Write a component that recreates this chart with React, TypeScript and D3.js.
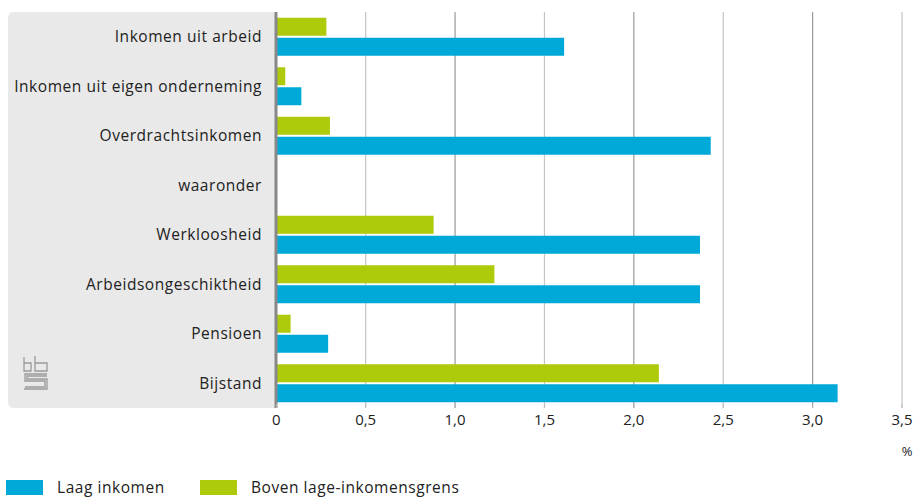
import React from "react";
import * as d3 from "d3";

const categories = [
  "Inkomen uit arbeid",
  "Inkomen uit eigen onderneming",
  "Overdrachtsinkomen",
  "waaronder",
  "Werkloosheid",
  "Arbeidsongeschiktheid",
  "Pensioen",
  "Bijstand",
];
const laagInkomen: (number | null)[] = [1.61, 0.14, 2.43, null, 2.37, 2.37, 0.29, 3.14];
const bovenGrens: (number | null)[] = [0.28, 0.05, 0.3, null, 0.88, 1.22, 0.08, 2.14];
const ticks = [0, 0.5, 1, 1.5, 2, 2.5, 3, 3.5];
const seriesNames = ["Laag inkomen", "Boven lage-inkomensgrens"];
const BLUE = "#00a9d7";
const GREEN = "#afca0b";

export default function App() {
  const W = 915, H = 498;
  const top = 12, bottom = 408;
  const x = d3.scaleLinear().domain([0, 3.5]).range([276.3, 902]);
  const y = d3.scaleBand().domain(categories).range([top, bottom]).paddingInner(0).paddingOuter(0);
  const bw = 18;
  const font = "'Open Sans', Roboto, sans-serif";
  const fmt = (v: number) => (v === 0 ? "0" : d3.format(".1f")(v).replace(".", ","));
  return (
    <svg width={W} height={H} style={{ position: "absolute", left: 0, top: 0 }} fontFamily={font}>
      <path
        d={`M276,${top} L14,${top} Q8,${top} 8,${top + 6} L8,${bottom - 6} Q8,${bottom} 14,${bottom} L276,${bottom} Z`}
        fill="#e9e9e9"
      />
      {ticks.slice(1).map((t, i) => (
        <line key={t} x1={x(t)} x2={x(t)} y1={top} y2={bottom}
          stroke={i % 2 === 0 ? "#c4c4c4" : "#999"} strokeWidth={1.2} />
      ))}
      {categories.map((c, i) => {
        const cy = (y(c) as number) + y.bandwidth() / 2;
        const g = bovenGrens[i];
        const b = laagInkomen[i];
        return (
          <g key={c}>
            {g != null && <rect x={x(0)} y={cy - 19} width={x(g) - x(0)} height={bw} fill={GREEN} />}
            {b != null && <rect x={x(0)} y={cy + 1} width={x(b) - x(0)} height={bw} fill={BLUE} />}
            <text x={262} y={cy} dy="0.35em" textAnchor="end" fontSize={15.5} letterSpacing={0.55} fill="#222">{c}</text>
          </g>
        );
      })}
      <line x1={276} x2={276} y1={top} y2={bottom} stroke="#888" strokeWidth={3} />
      {ticks.map((t) => (
        <g key={t}>
          <line x1={x(t)} x2={x(t)} y1={bottom - 4} y2={bottom} stroke="#bbb" strokeWidth={1} />
          <text x={x(t)} y={420} dy="0.35em" textAnchor="middle" fontSize={15} fill="#222">{fmt(t)}</text>
        </g>
      ))}
      <text x={907} y={451} dy="0.35em" textAnchor="middle" fontSize={13} fill="#222">%</text>
      {/* CBS logo */}
      <g fill="none" stroke="#9a9a9a" strokeWidth={1.3}>
        <path d="M24,357 v14 h7 v-8 h-7" />
        <path d="M35,356 v15 h12 v-8 h-12" />
        <path d="M47,374 h-22 v7 h20 v6 h-20 M24,389 h23 v-10 h-20 v-3 h20" />
      </g>
      {/* legend */}
      <rect x={6} y={480} width={37} height={15} fill={BLUE} />
      <text x={57} y={493} fontSize={15.5} letterSpacing={0.55} fill="#222">{seriesNames[0]}</text>
      <rect x={200} y={480} width={37} height={15} fill={GREEN} />
      <text x={251} y={493} fontSize={15.5} letterSpacing={0.55} fill="#222">{seriesNames[1]}</text>
    </svg>
  );
}
